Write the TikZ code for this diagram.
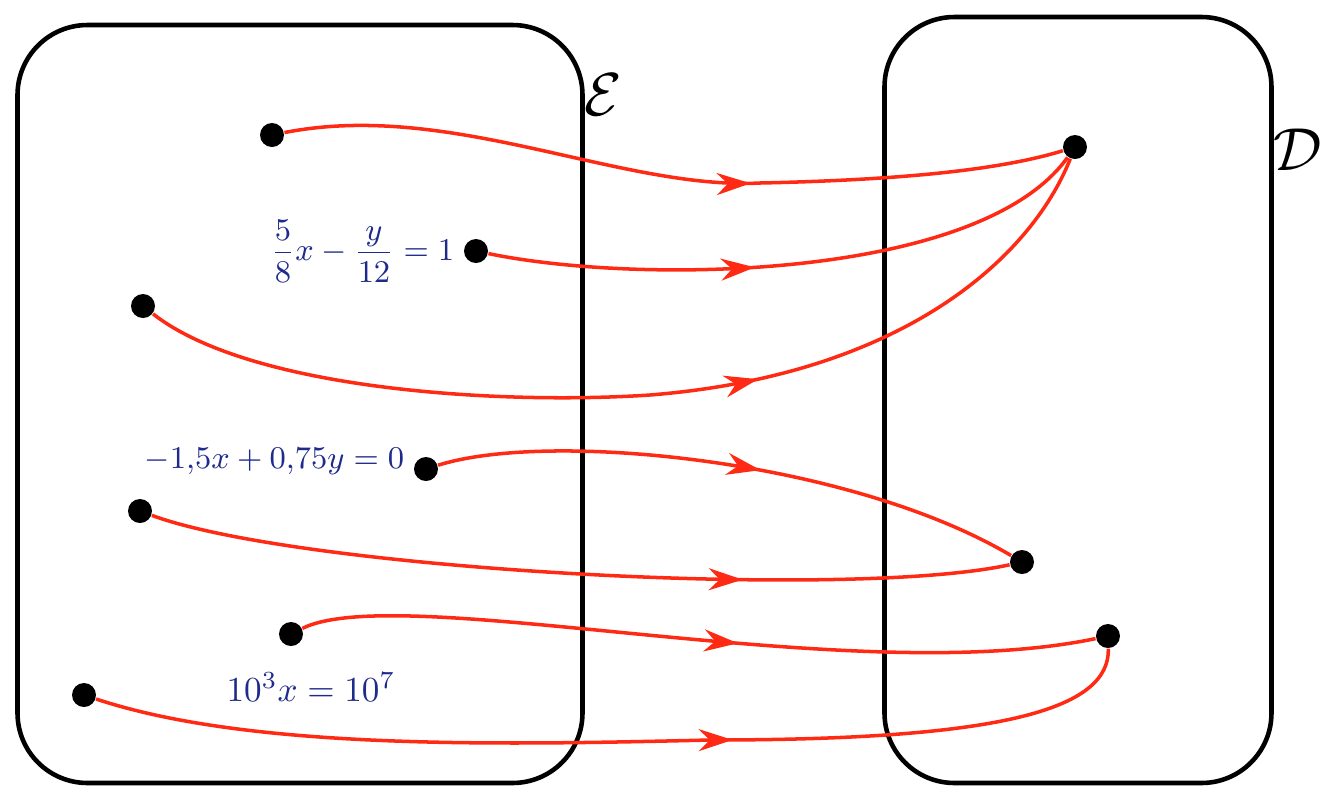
\documentclass[tikz,border=0pt]{standalone}
\usepackage{amsmath,amssymb}
\usetikzlibrary{arrows.meta,positioning,decorations.markings}
\definecolor{mapred}{HTML}{FF2A14}
\definecolor{ink}{HTML}{1E2A8C}

\begin{document}
\begin{tikzpicture}[x=0.1mm,y=-0.1mm,
  set/.style={draw,line width=1.3pt,rounded corners=7mm,inner sep=0pt},
  pt/.style={circle,fill=black,inner sep=0pt,minimum size=2.4mm},
  eq/.style={text=ink,inner sep=1pt},
  map/.style={draw=mapred,line width=1pt,postaction={decorate},
    decoration={markings,mark=at position #1 with {\arrow{Stealth[length=3.4mm,width=2.2mm]}}}}]
\useasboundingbox (0,0) rectangle (1331,804);
% the two sets
\node[set,minimum width=56.5mm,minimum height=75.8mm] (setE) at (300,404) {};
\node[set,minimum width=38.7mm,minimum height=76.6mm] (setD) at (1078,400) {};
\node[font=\LARGE] (lblE) at (603,95) {$\mathcal{E}$};
\node[font=\LARGE] (lblD) at (1298,150) {$\mathcal{D}$};
% elements of E
\node[pt] (a1) at (272,135) {};
\node[pt] (a2) at (476,251) {};
\node[pt] (a3) at (143,306) {};
\node[pt] (a4) at (426,469) {};
\node[pt] (a5) at (140,511) {};
\node[pt] (a6) at (291,634) {};
\node[pt] (a7) at (84,695) {};
% elements of D
\node[pt] (b1) at (1075,147) {};
\node[pt] (b2) at (1022,562) {};
\node[pt] (b3) at (1108,636) {};
% equations
\node[eq,font=\small,left=0.5mm of a2] (eq1) {$\displaystyle\frac{5}{8}x-\frac{y}{12}=1$};
\node[eq,font=\small,left=0.5mm of a4,yshift=0.8mm] (eq2) {$-1{,}5x+0{,}75y=0$};
\node[eq,below=2.2mm of a6,xshift=2mm] (eq3) {$10^3x=10^7$};
% the map
\draw[map=0.60] (a1) .. controls (450,100) and (620,190) .. (760,183) .. controls (900,180) and (1000,170) .. (b1);
\draw[map=0.44] (a2) .. controls (640,285) and (980,280) .. (b1);
\draw[map=0.61] (a3) .. controls (250,390) and (500,405) .. (650,395) .. controls (900,375) and (1030,260) .. (b1);
\draw[map=0.55] (a4) .. controls (550,430) and (850,460) .. (b2);
\draw[map=0.69] (a5) .. controls (300,570) and (850,600) .. (b2);
\draw[map=0.55] (a6) .. controls (400,580) and (850,690) .. (b3);
\draw[map=0.61] (a7) .. controls (250,750) and (500,745) .. (710,740) .. controls (1000,740) and (1110,710) .. (b3);
\end{tikzpicture}
\end{document}
